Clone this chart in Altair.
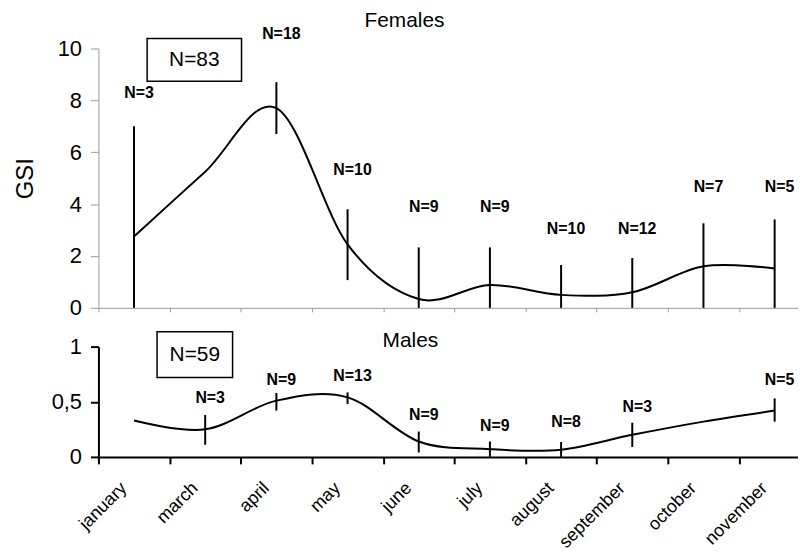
import altair as alt
import pandas as pd

months = ["january", "march", "april", "may", "june", "july", "august",
          "september", "october", "november"]

# Females
f_mean = [2.75, 5.25, 7.7, 2.45, 0.34, 0.88, 0.5, 0.6, 1.6, 1.52]
f_lo = [0.0, None, 6.7, 1.07, 0.0, 0.0, 0.0, 0.0, 0.0, 0.0]
f_hi = [7.0, None, 8.7, 3.8, 2.33, 2.33, 1.65, 1.92, 3.26, 3.41]
f_n = [3, None, 18, 10, 9, 9, 10, 12, 7, 5]
f_label_y = [8.3, None, 10.57, 5.33, 3.87, 3.87, 3.03, 3.03, 4.64, 4.64]

# Males
m_mean = [0.33, 0.25, 0.51, 0.54, 0.14, 0.07, 0.065, 0.2, 0.32, 0.42]
m_lo = [None, 0.11, 0.42, 0.48, 0.04, 0.0, 0.0, 0.09, None, 0.32]
m_hi = [None, 0.38, 0.58, 0.585, 0.23, 0.14, 0.135, 0.31, None, 0.53]
m_n = [None, 3, 9, 13, 9, 9, 8, 3, None, 5]
m_label_y = [None, 0.53, 0.70, 0.73, 0.38, 0.28, 0.32, 0.45, None, 0.70]

y_ticks_f = [0, 2, 4, 6, 8, 10]
y_ticks_m = [0, 0.5, 1]

FONT = "Liberation Sans"
W = 704
H_TOP = 261
H_BOT = 111
X_DOMAIN = [-0.5, -0.5 + W / 71.63]
boundaries = [i - 0.5 for i in range(10)]


def frame(mean, lo, hi, n, ly):
    return pd.DataFrame({"idx": list(range(len(months))), "month": months,
                         "mean": mean, "lo": lo, "hi": hi, "n": n, "ly": ly})


def panel(df, ydomain, yticks, height, axis_color, axis_width, title, total,
          box, title_pos, ytitle, show_months, ylabel_expr=None):
    xscale = alt.Scale(domain=X_DOMAIN, nice=False, zero=False)
    yscale = alt.Scale(domain=ydomain, nice=False, zero=False)
    xaxis = alt.Axis(values=boundaries, labels=False, title=None,
                     domainColor=axis_color, tickColor=axis_color,
                     domainWidth=axis_width, tickWidth=axis_width,
                     tickSize=4 if axis_width < 1.5 else 7, grid=False)
    yaxis_kw = dict(values=yticks, title=ytitle, domainColor=axis_color,
                    tickColor=axis_color, domainWidth=axis_width,
                    tickWidth=axis_width, tickSize=8, labelPadding=9,
                    labelFontSize=22, labelColor="black", labelFont=FONT,
                    titleFont=FONT, titleFontSize=24, titleFontWeight="normal",
                    titleColor="black", titlePadding=20, grid=False)
    if ylabel_expr:
        yaxis_kw["labelExpr"] = ylabel_expr
    yaxis = alt.Axis(**yaxis_kw)

    base = alt.Chart(df)
    line = base.mark_line(interpolate="cardinal", color="black",
                          strokeWidth=2).encode(
        x=alt.X("idx:Q", scale=xscale, axis=xaxis),
        y=alt.Y("mean:Q", scale=yscale, axis=yaxis),
    )
    bars = base.transform_filter("isValid(datum.hi)").mark_rule(
        color="black", strokeWidth=2).encode(
        x="idx:Q", y="lo:Q", y2="hi:Q")
    nlab = base.transform_filter("isValid(datum.n)").transform_calculate(
        lab="'N=' + datum.n").mark_text(
        font=FONT, fontSize=16, fontWeight="bold", color="black", dx=5,
        baseline="middle", align="center").encode(
        x="idx:Q", y="ly:Q", text="lab:N")

    info = pd.DataFrame({"label": ["N=%d" % total], "title": [title]})
    ibase = alt.Chart(info)
    rect = ibase.mark_rect(fill="white", stroke="black",
                           strokeWidth=1.5).encode(
        x=alt.value(box[0]), x2=alt.value(box[1]),
        y=alt.value(box[2]), y2=alt.value(box[3]))
    rtext = ibase.mark_text(font=FONT, fontSize=21, color="black",
                            baseline="middle", align="center").encode(
        x=alt.value((box[0] + box[1]) / 2), y=alt.value((box[2] + box[3]) / 2),
        text="label:N")
    ttext = ibase.mark_text(font=FONT, fontSize=21, color="black",
                            baseline="middle", align="center").encode(
        x=alt.value(title_pos[0]), y=alt.value(title_pos[1]), text="title:N")

    layers = [line, bars, nlab, rect, rtext, ttext]
    if show_months:
        mlab = base.mark_text(font=FONT, fontSize=18, color="black",
                              angle=315, align="right", baseline="middle",
                              dx=-7, dy=-7).encode(
            x="idx:Q", y=alt.value(height + 29), text="month:N")
        layers.append(mlab)
    return alt.layer(*layers).properties(width=W, height=height)


top = panel(frame(f_mean, f_lo, f_hi, f_n, f_label_y), [0, 10], y_ticks_f,
            H_TOP, "#999999", 1, "Females", int(sum(v for v in f_n if v)),
            (49, 144, -10, 33), (308, -28), "GSI", False)
bottom = panel(frame(m_mean, m_lo, m_hi, m_n, m_label_y), [0, 1], y_ticks_m,
               H_BOT, "black", 2, "Males", int(sum(v for v in m_n if v)),
               (59, 135, -15, 31), (314, -6), None, True,
               ylabel_expr="replace(toString(datum.value), '.', ',')")

chart = alt.vconcat(top, bottom, spacing=39, bounds="flush").properties(
    padding={"left": 5, "top": 0, "right": 0, "bottom": 5}
).configure_view(stroke=None)

chart.save("out.html", embed_options={"renderer": "svg", "actions": False})
